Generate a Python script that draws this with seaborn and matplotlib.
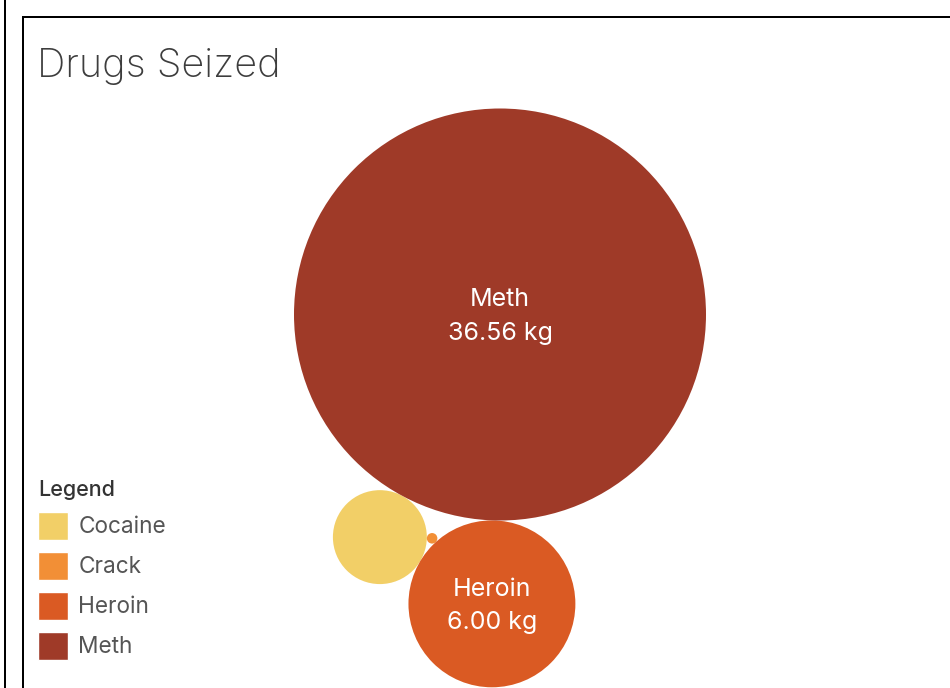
import numpy as np
import pandas as pd
import seaborn as sns
import matplotlib.pyplot as plt
from matplotlib.patches import Patch

# values (kg)
drugs = ["Cocaine", "Crack", "Heroin", "Meth"]
kg = [1.90, 0.024, 6.00, 36.56]
colors = ["#F2CF67", "#F28F36", "#DA5A23", "#9F3A28"]

W, H = 950, 688
px_per_sqrt_kg = 34.07          # bubble radius scale, px per sqrt(kg)
meth_center = np.array([500.0, 314.5])
heroin_angle = np.deg2rad(91.6)  # heroin sits just under meth


def touching(c1, r1, c2, r2, r, pick):
    # centre of a circle of radius r touching both circles
    d1, d2 = r1 + r, r2 + r
    v = c2 - c1
    d = np.hypot(*v)
    a = (d1**2 - d2**2 + d**2) / (2 * d)
    h = np.sqrt(max(d1**2 - a**2, 0))
    base = c1 + a * v / d
    perp = np.array([-v[1], v[0]]) / d
    return pick(base + h * perp, base - h * perp)


df = pd.DataFrame({"drug": drugs, "kg": kg})
df["r"] = px_per_sqrt_kg * np.sqrt(df["kg"])
r = dict(zip(df["drug"], df["r"]))

# simple front-chain packing
pos = {"Meth": meth_center}
pos["Heroin"] = meth_center + (r["Meth"] + r["Heroin"]) * np.array([np.cos(heroin_angle), np.sin(heroin_angle)])
pos["Cocaine"] = touching(pos["Meth"], r["Meth"], pos["Heroin"], r["Heroin"], r["Cocaine"],
                          lambda p, q: p if p[0] < q[0] else q)
pos["Crack"] = touching(pos["Cocaine"], r["Cocaine"], pos["Heroin"], r["Heroin"], r["Crack"],
                        lambda p, q: p if p[1] < q[1] else q)
df["x"] = [pos[d][0] for d in df["drug"]]
df["y"] = [pos[d][1] for d in df["drug"]]

sns.set_style("white")
plt.rcParams["font.family"] = ["Inter", "DejaVu Sans"]

fig = plt.figure(figsize=(W / 100, H / 100), dpi=100)
ax = fig.add_axes([0, 0, 1, 1])
ax.set_xlim(0, W)
ax.set_ylim(H, 0)
ax.axis("off")

# marker area in points^2, proportional to kg
s_max = (2 * df["r"].max() * 0.72) ** 2
sns.scatterplot(data=df, x="x", y="y", hue="drug", hue_order=drugs,
                palette=dict(zip(drugs, colors)), size="kg",
                sizes=(0, s_max), size_norm=(0, df["kg"].max()),
                linewidth=0, legend=False, ax=ax)

for _, row in df.iterrows():
    if row["r"] > 60:
        ax.text(row["x"], row["y"] + 2, f"{row['drug']}\n{row['kg']:.2f} kg",
                ha="center", va="center", color="white", fontsize=18, linespacing=1.58)

ax.text(37, 77, "Drugs Seized", fontsize=28.5, fontweight="light", color="#3d3d3d", va="baseline")

# frame lines
ax.plot([23, 23, W], [H, 17, 17], color="black", lw=1.44, solid_joinstyle="miter")
ax.plot([5, 5], [0, H], color="black", lw=1.44)

handles = [Patch(facecolor=c, label=d) for d, c in zip(drugs, colors)]
leg = ax.legend(handles=handles, title="Legend", loc="upper left",
                bbox_to_anchor=(38, 480), bbox_transform=ax.transData,
                frameon=False, fontsize=16.3, title_fontsize=15.5,
                handlelength=1.33, handleheight=1.55, handletextpad=0.45,
                labelspacing=0.515, borderpad=0, borderaxespad=0,
                alignment="left", labelcolor="#555555")
leg.get_title().set_color("#333333")
leg.get_title().set_fontweight("medium")

fig.savefig("out.png", dpi=100)
